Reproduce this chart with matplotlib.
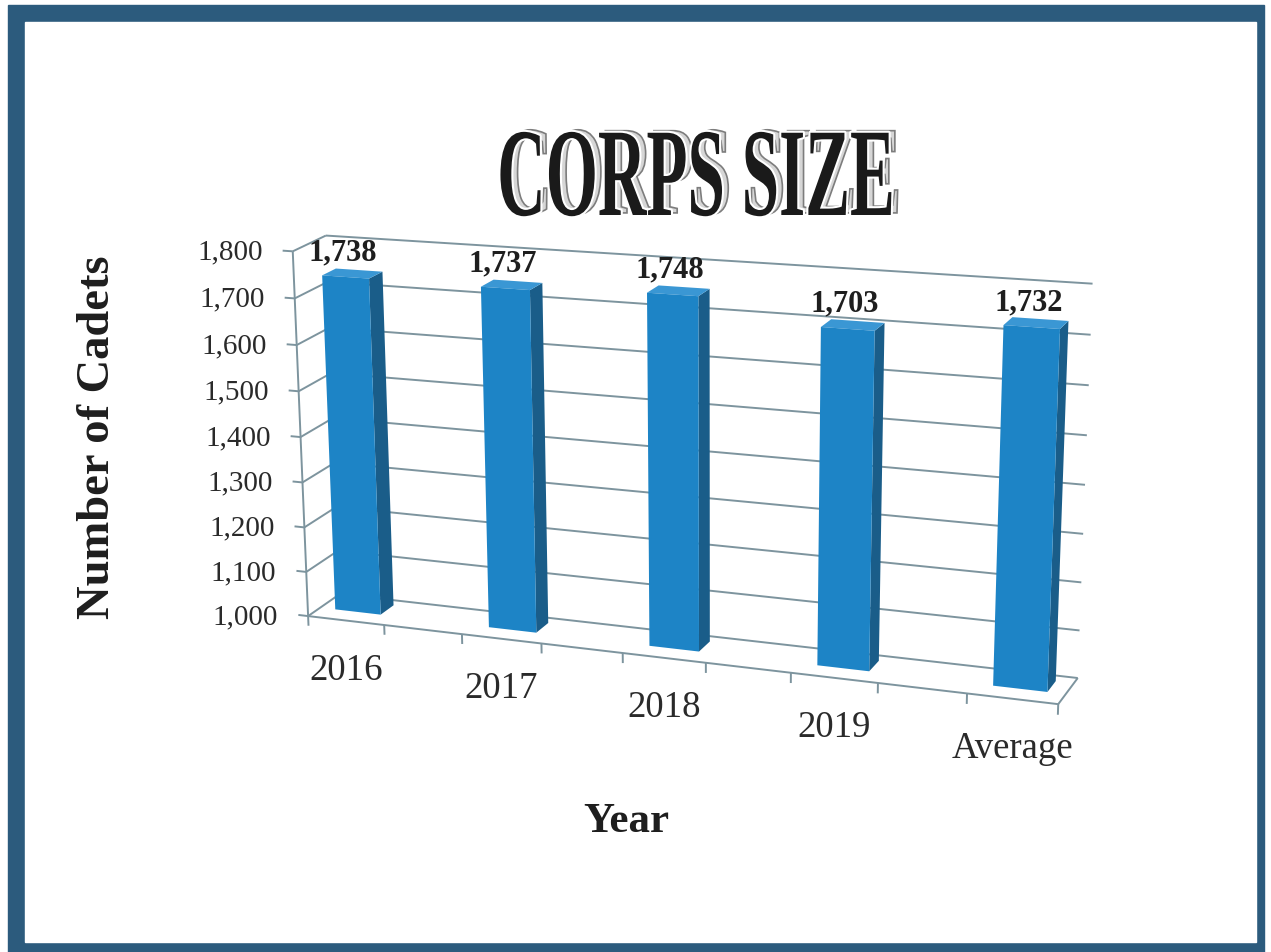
"""Corps size chart: 3D-looking column chart drawn with a fitted perspective."""

import numpy as np
import matplotlib
matplotlib.use("Agg")
import matplotlib.pyplot as plt
import matplotlib.patheffects as pe
from matplotlib.patches import Rectangle
from matplotlib.transforms import Transform, Affine2D, offset_copy

plt.rcParams["font.family"] = ["Liberation Serif", "DejaVu Serif"]

categories = ["2016", "2017", "2018", "2019", "Average"]
cadets = [1738, 1737, 1748, 1703, 1732]
value_ticks = [1000, 1100, 1200, 1300, 1400, 1500, 1600, 1700, 1800]
tick_labels = [f"{t:,}" for t in value_ticks]

BASE, TOP = 1000, 1800
N_SLOTS = 9            # floor carries 9 tick slots, the columns sit in every other one
BAR_W = 0.6
BAR_FRONT, BAR_BACK = 0.38, 0.8
bar_pos = [0.5 + 2 * i for i in range(len(categories))]

W, H = 1271, 953
FRAME = "#2c5b7d"
GRID = "#7d949e"
FRONT_C, SIDE_C, TOP_C = "#1d84c6", "#1a5d89", "#3a97d4"
INK = "#1e1e1e"

# where the corners of the 3D box (slot, depth, value) land on the canvas
frame_world = [(0, 0, 1000), (0, 0, 1400), (0, 0, 1800), (1, 0, 1000), (3, 0, 1000),
               (5, 0, 1000), (7, 0, 1000), (9, 0, 1000), (0, 1, 1800), (0, 1, 1000),
               (9, 1, 1800), (9, 1, 1400), (9, 1, 1000)]
frame_canvas = [(308, 617), (301, 437), (294, 250), (385, 626), (540, 645),
                (707, 665), (877, 685), (1057, 706), (324, 239), (340, 595),
                (1092, 286), (1087, 484), (1078, 677)]


def fit_camera(world, canvas):
    rows = []
    for (x, d, z), (u, v) in zip(world, canvas):
        p = [x, d, (z - BASE) / 100.0, 1.0]
        un, vn = (u - 640) / 640, (v - 480) / 640
        rows.append(p + [0, 0, 0, 0] + [-un * q for q in p])
        rows.append([0, 0, 0, 0] + p + [-vn * q for q in p])
    _, _, vt = np.linalg.svd(np.array(rows))
    return vt[-1].reshape(3, 4)


CAM = fit_camera(frame_world, frame_canvas)


class Plane(Transform):
    """Maps 2D coordinates on one face of the box to canvas coordinates."""
    input_dims = output_dims = 2

    def __init__(self, fixed, level):
        super().__init__()
        self.fixed, self.level = fixed, level

    def transform_non_affine(self, values):
        a = np.asarray(values, dtype=float).reshape(-1, 2)
        c = np.full(len(a), float(self.level))
        if self.fixed == "depth":
            x, d, z = a[:, 0], c, a[:, 1]
        elif self.fixed == "slot":
            x, d, z = c, a[:, 0], a[:, 1]
        else:
            x, d, z = a[:, 0], a[:, 1], c
        h = CAM @ np.vstack([x, d, (z - BASE) / 100.0, np.ones_like(x)])
        return np.column_stack([h[0] / h[2] * 640 + 640, h[1] / h[2] * 640 + 480])


class Condensed(pe.AbstractPathEffect):
    """Squeezes text around its centre / baseline, then runs inner effects."""

    def __init__(self, inner, sx, sy):
        super().__init__()
        self.inner, self.sx, self.sy = inner, sx, sy

    def draw_path(self, renderer, gc, tpath, affine, rgbFace=None):
        ext = tpath.get_extents(affine)
        cx = (ext.x0 + ext.x1) / 2
        by = affine.get_matrix()[1, 2]
        squeeze = (Affine2D().translate(-cx, -by).scale(self.sx, self.sy)
                   .translate(cx, by))
        for eff in self.inner:
            eff.draw_path(renderer, gc, tpath, affine + squeeze, rgbFace)


fig = plt.figure(figsize=(W / 100, H / 100), dpi=100)
ax = fig.add_axes([0, 0, 1, 1])
ax.set_xlim(0, W)
ax.set_ylim(H, 0)
ax.axis("off")


def on(fixed, level):
    return Plane(fixed, level) + ax.transData


# slide frame
ax.add_patch(Rectangle((8, 6), 1256, 947, color=FRAME, zorder=0))
ax.add_patch(Rectangle((25, 23), 1231, 920, color="white", zorder=0.1))

# walls and floor
line_kw = dict(color=GRID, lw=1.4, solid_capstyle="butt", zorder=1)
for t in value_ticks:
    ax.plot([0, N_SLOTS], [t, t], transform=on("depth", 1.0), **line_kw)
    ax.plot([0, 1], [t, t], transform=on("slot", 0.0), **line_kw)
ax.plot([0, N_SLOTS, N_SLOTS], [0, 0, 1], transform=on("value", BASE), **line_kw)

front = on("depth", 0.0)
ax.plot([0, 0], [BASE - 22, TOP], transform=front, **line_kw)
for t in value_ticks:
    ax.plot([-0.13, 0], [t, t], transform=front, **line_kw)
for k in range(1, N_SLOTS + 1):
    ax.plot([k, k], [BASE, BASE - 22], transform=front, **line_kw)

# axis labels
ytl = offset_copy(front, fig=fig, x=-30, y=0, units="dots")
for t, s in zip(value_ticks, tick_labels):
    ax.text(0, t, s, transform=ytl, ha="right", va="center", fontsize=21, color="#2a2a2a")
xtl = offset_copy(front, fig=fig, x=0, y=-49, units="dots")
for pos, name in zip(bar_pos, categories):
    ax.text(pos, BASE, name, transform=xtl, ha="center", va="center", fontsize=26.5, color="#2a2a2a")

# columns
for pos, val in zip(bar_pos, cadets):
    x0, x1 = pos - BAR_W / 2, pos + BAR_W / 2
    ax.add_patch(Rectangle((BAR_FRONT, BASE), BAR_BACK - BAR_FRONT, val - BASE,
                           transform=on("slot", x1), fc=SIDE_C, ec="none", zorder=3))
    ax.add_patch(Rectangle((x0, BAR_FRONT), BAR_W, BAR_BACK - BAR_FRONT,
                           transform=on("value", val), fc=TOP_C, ec="none", zorder=3))
    ax.add_patch(Rectangle((x0, BASE), BAR_W, val - BASE,
                           transform=on("depth", BAR_FRONT), fc=FRONT_C, ec="none", zorder=4))
    lab = offset_copy(on("value", val), fig=fig, x=-3, y=18, units="dots")
    ax.text(pos, BAR_FRONT, f"{val:,}", transform=lab, ha="center", va="baseline",
            fontsize=22, fontweight="bold", color=INK, zorder=5)

ax.set_xlim(0, W)
ax.set_ylim(H, 0)

title = fig.text(696 / W, 1 - 216 / H, "CORPS SIZE", ha="center", va="baseline",
                 fontsize=66, fontweight="bold", color="#1a1a1a")
title.set_path_effects([Condensed([
    pe.PathPatchEffect(offset=(4.5, 1.5), edgecolor="#7d7d7d", facecolor="#d6d6d6", linewidth=1.2),
    pe.Stroke(linewidth=3, foreground="white"),
    pe.Normal(),
], sx=0.733, sy=1.37)])

fig.text(98 / W, 1 - 437 / H, "Number of Cadets", rotation=90, ha="center", va="center",
         fontsize=33.5, fontweight="bold", color=INK)
fig.text(626 / W, 1 - 822 / H, "Year", ha="center", va="center",
         fontsize=31, fontweight="bold", color=INK)

fig.savefig("out.png", dpi=100)
